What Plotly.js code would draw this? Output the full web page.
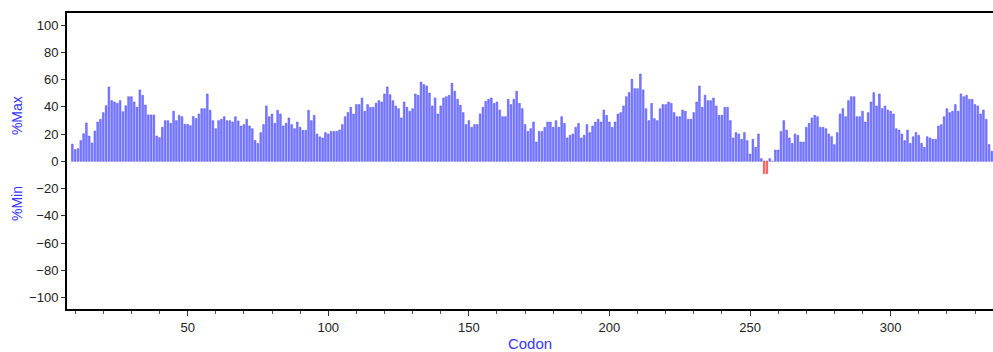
<!DOCTYPE html>
<html>
<head>
<meta charset="utf-8">
<script src="https://cdn.plot.ly/plotly-3.0.1.min.js"></script>
<style>
html,body{margin:0;padding:0;background:#fff;overflow:hidden;}
#chart{width:1000px;height:352px;}
</style>
</head>
<body>
<div id="chart"></div>
<script>
// Codon positions (x categories)
const codons = [9,10,11,12,13,14,15,16,17,18,19,20,21,22,23,24,25,26,27,28,29,30,31,32,33,34,35,36,37,38,39,40,
41,42,43,44,45,46,47,48,49,50,51,52,53,54,55,56,57,58,59,60,61,62,63,64,65,66,67,68,69,70,71,72,73,74,75,76,77,78,79,80,
81,82,83,84,85,86,87,88,89,90,91,92,93,94,95,96,97,98,99,100,101,102,103,104,105,106,107,108,109,110,111,112,113,114,115,116,117,118,119,120,
121,122,123,124,125,126,127,128,129,130,131,132,133,134,135,136,137,138,139,140,141,142,143,144,145,146,147,148,149,150,151,152,153,154,155,156,157,158,159,160,
161,162,163,164,165,166,167,168,169,170,171,172,173,174,175,176,177,178,179,180,181,182,183,184,185,186,187,188,189,190,191,192,193,194,195,196,197,198,199,200,
201,202,203,204,205,206,207,208,209,210,211,212,213,214,215,216,217,218,219,220,221,222,223,224,225,226,227,228,229,230,231,232,233,234,235,236,237,238,239,240,
241,242,243,244,245,246,247,248,249,250,251,252,253,254,255,256,257,258,259,260,261,262,263,264,265,266,267,268,269,270,271,272,273,274,275,276,277,278,279,280,
281,282,283,284,285,286,287,288,289,290,291,292,293,294,295,296,297,298,299,300,301,302,303,304,305,306,307,308,309,310,311,312,313,314,315,316,317,318,319,320,
321,322,323,324,325,326,327,328,329,330,331,332,333,334,335,336];

// %Max values (blue bars), one per codon
const maxValues = [12.7,8.6,9.3,15.2,20.3,28.2,18.6,13.5,22.3,28.9,30.9,35.8,40.9,54.7,44.6,43.6,42.6,44.6,36.5,40.9,47.5,47.5,43.6,39.7,52.5,48.5,41.4,34.1,34.1,34.1,18.6,17.4,
25,29.9,29.9,27.9,36.8,29.9,33.8,32.8,27.2,27.2,26.2,33,31.4,34.8,38.7,38.7,49.5,37.5,29.9,24,29.9,30.9,32.8,29.9,29.9,28.9,32.8,29.7,26,27,30.9,26,24,15.4,13.2,21.1,27,40.7,32.8,34.8,
27.9,37.5,34.8,26,27.9,31.9,27,24,28.9,25,22.8,22.8,37.5,29.9,33.8,20.1,18,17.2,21.1,20.1,22,22,22,23,27,32.8,35.8,39.7,34.8,41.7,41.7,46.6,36.8,41.7,39.7,39.7,42.6,44.6,43.6,49.5,
54.7,49,44.6,40.7,38.7,31.9,43.6,39.7,36.8,38.7,49.5,48.5,58.3,56.4,55.4,50.2,40.7,46.6,34.8,40.7,46.6,47.5,48.5,57.4,51.5,45.6,41.2,35.8,27,29.9,25,27,27,34.8,39.7,44.1,45.6,46.6,42.6,43.6,
37.7,32.8,32.8,45.6,41.7,45.6,51.5,42.6,38.7,27,22,24,28.9,14.2,22,22,25,28.9,28.9,25,29.9,25,32.8,27.9,17.2,19.1,20.1,25,27.9,17.2,19.1,27,21.1,26,28.9,30.9,28.9,37.7,33.8,28.9,
25,28.9,34.8,35.8,40.7,47.5,50.5,60.3,53.4,53.4,64.2,52.5,38.7,29.9,42.6,31.4,29.9,38.7,41.7,41.7,43.6,42.6,35.8,32.8,32.8,37.7,36.8,30.9,30.9,35.8,43.6,55.4,39.7,48.5,44.6,44.6,46.6,40.7,33.8,33.8,
39.7,39.7,29.9,17.2,21.1,20.1,16.2,21.1,15.2,5.4,16.2,10.3,20.1,2,0,0,2,0,8.3,8.3,22,29.9,23,17.2,13.2,20.1,19.1,14.2,14.2,25,27.9,31.9,33.8,32.8,25,25,24,20.1,18.1,12.3,
21.1,34.8,38.7,32.8,44.6,47.5,47.5,32.8,32.8,36.8,28.9,35.8,43.6,50.5,40.7,49.5,38.7,40.7,37.7,36.8,34.8,24,23,20.1,15.2,23,13.2,18.1,21.1,19.1,13.2,10.3,18.1,17.2,16.2,16.2,26,27,32.8,38.7,
35.8,36.8,41.7,36.8,49.5,47.5,48.5,45.6,45.6,41.7,40.7,34.8,37.7,30.9,12.3,7.4];

// %Min values (red bars)
const minCodons = [255,256];
const minValues = [-9,-9];

// Axis ticks
const xTickVals = [50,100,150,200,250,300];
const yTickVals = [-100,-80,-60,-40,-20,0,20,40,60,80,100];

const blue = 'rgb(55,55,255)';
const traces = [
  {type:'bar', x:codons, y:maxValues, width:0.62,
   marker:{color:'rgb(125,125,255)', line:{color:'rgb(75,75,250)', width:0.5}},
   hoverinfo:'x+y'},
  {type:'bar', x:minCodons, y:minValues, width:0.5,
   marker:{color:'rgb(255,150,150)', line:{color:'rgb(235,50,50)', width:0.7}},
   hoverinfo:'x+y'}
];

const tickFont = {family:'Liberation Sans, Arial, sans-serif', size:13, color:'#222'};

const layout = {
  width:1000, height:352,
  margin:{l:67, r:7, t:13, b:43},
  paper_bgcolor:'#fff', plot_bgcolor:'#fff',
  showlegend:false, barmode:'overlay', bargap:0,
  xaxis:{
    range:[7.1,336.4], tickvals:xTickVals, ticks:'outside', ticklen:5, tickwidth:1, tickcolor:'#333',
    minor:{dtick:10, tick0:0, ticks:'outside', ticklen:3, tickcolor:'#555', showgrid:false},
    showgrid:false, zeroline:false, showline:true, linecolor:'#000', linewidth:2, mirror:true,
    tickfont:tickFont,
    title:{text:'Codon', font:{family:'Liberation Sans, Arial, sans-serif', size:15, color:blue}, standoff:7}
  },
  yaxis:{
    range:[-108.5,109], tickvals:yTickVals, ticks:'outside', ticklen:4, tickwidth:1, tickcolor:'#333',
    showgrid:false, zeroline:false, showline:true, linecolor:'#000', linewidth:2, mirror:true,
    tickfont:tickFont
  },
  annotations:[
    {text:'%Max', xref:'paper', yref:'paper', x:-0.054, y:0.655, xanchor:'center', yanchor:'middle',
     showarrow:false, textangle:-90,
     font:{family:'Liberation Sans, Arial, sans-serif', size:14, color:blue}},
    {text:'%Min', xref:'paper', yref:'paper', x:-0.054, y:0.358, xanchor:'center', yanchor:'middle',
     showarrow:false, textangle:-90,
     font:{family:'Liberation Sans, Arial, sans-serif', size:14, color:blue}}
  ]
};

Plotly.newPlot('chart', traces, layout, {staticPlot:true, displayModeBar:false});
</script>
</body>
</html>
